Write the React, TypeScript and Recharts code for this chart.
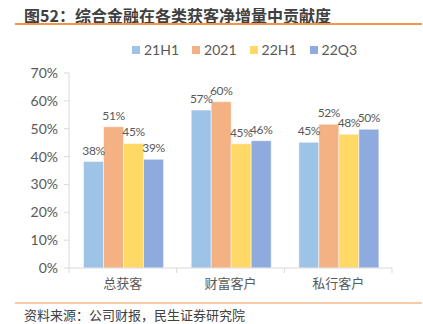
import React from "react";
import { BarChart, Bar, XAxis, YAxis, LabelList } from "recharts";

const categories = ["总获客", "财富客户", "私行客户"];
const s21H1 = [38.2, 56.7, 45.1];
const s2021 = [50.7, 59.7, 51.6];
const s22H1 = [44.7, 44.6, 48.0];
const s22Q3 = [39.0, 45.7, 49.8];
const yTicks = [0, 10, 20, 30, 40, 50, 60, 70];

const seriesNames = ["21H1", "2021", "22H1", "22Q3"];
const seriesColors = ["#9DC3E6", "#F4B183", "#FFD966", "#8FAADC"];

const data = categories.map((c, i) => ({
  name: c,
  k0: s21H1[i],
  k1: s2021[i],
  k2: s22H1[i],
  k3: s22Q3[i],
}));

const FONT = "Lato, 'Noto Sans CJK SC', sans-serif";
const TXT = "#595959";

const XTick = (props: any) => {
  const { x, y, payload, index } = props;
  const off = payload.offset || 0;
  return (
    <g>
      <line x1={x - off} x2={x - off} y1={y - 8} y2={y - 3} stroke="#D9D9D9" />
      {index === categories.length - 1 && (
        <line x1={x + off} x2={x + off} y1={y - 8} y2={y - 3} stroke="#D9D9D9" />
      )}
      <text x={x} y={y + 12} textAnchor="middle" fill={TXT} fontSize={13} fontFamily="'Noto Sans CJK SC', sans-serif">
        {payload.value}
      </text>
    </g>
  );
};

export default function App() {
  return (
    <div style={{ position: "absolute", left: 0, top: 0, width: 423, height: 324, background: "#fff", fontFamily: "'Noto Sans CJK SC', sans-serif" }}>
      <div style={{ position: "absolute", left: 24, top: 4, fontSize: 16, fontWeight: 700, color: "#404040", whiteSpace: "nowrap", lineHeight: "22px" }}>
        图52：综合金融在各类获客净增量中贡献度
      </div>
      <div style={{ position: "absolute", left: 15, top: 23, width: 407, height: 2, background: "#F0954A" }} />
      <div style={{ position: "absolute", left: 15, top: 302, width: 407, height: 2, background: "#F8CBA6" }} />
      <div style={{ position: "absolute", left: 24, top: 305, fontSize: 13, color: "#404040", whiteSpace: "nowrap", lineHeight: "20px" }}>
        资料来源：公司财报，民生证券研究院
      </div>
      <div style={{ position: "absolute", left: 132, top: 41, display: "flex", alignItems: "center", fontFamily: FONT, fontSize: 14, color: TXT, lineHeight: "18px", whiteSpace: "nowrap" }}>
        {seriesNames.map((n, i) => (
          <div key={n} style={{ display: "flex", alignItems: "center", marginRight: 13 }}>
            <span style={{ display: "inline-block", width: 8, height: 8, background: seriesColors[i], marginRight: 4 }} />
            <span>{n}</span>
          </div>
        ))}
      </div>
      <div style={{ position: "absolute", left: 0, top: 0 }}>
        <BarChart
          width={423}
          height={324}
          data={data}
          margin={{ top: 73, right: 31, bottom: 26, left: 0 }}
          barCategoryGap="13.5%"
          barGap={0}
        >
          <XAxis
            dataKey="name"
            axisLine={{ stroke: "#D9D9D9" }}
            tickLine={false}
            tick={<XTick />}
            height={30}
            interval={0}
          />
          <YAxis
            width={69}
            domain={[0, 70]}
            ticks={yTicks}
            tickFormatter={(v: number) => `${v}%`}
            axisLine={{ stroke: "#D9D9D9" }}
            tickLine={{ stroke: "#D9D9D9" }}
            tickSize={5}
            tickMargin={6}
            tick={{ fill: TXT, fontSize: 14, fontFamily: FONT }}
            interval={0}
          />
          {seriesNames.map((n, i) => (
            <Bar key={n} dataKey={`k${i}`} name={n} fill={seriesColors[i]} stroke="#fff" strokeWidth={0.5} isAnimationActive={false}>
              <LabelList
                dataKey={`k${i}`}
                position="top"
                offset={7}
                formatter={(v: number) => `${Math.round(v)}%`}
                style={{ fill: TXT, fontSize: 12, fontFamily: FONT, letterSpacing: -0.4 }}
              />
            </Bar>
          ))}
        </BarChart>
      </div>
    </div>
  );
}
